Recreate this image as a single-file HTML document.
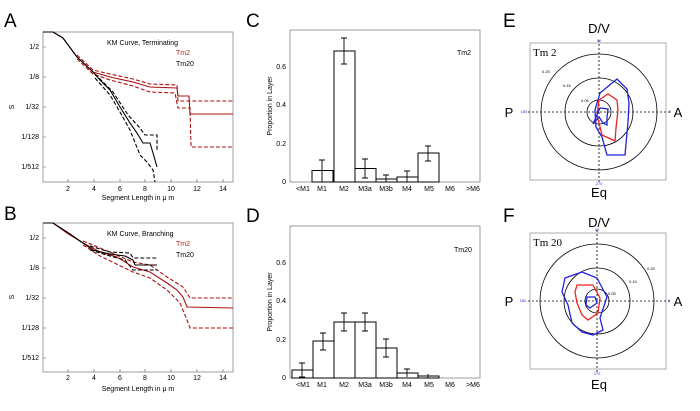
<!DOCTYPE html><html><head><style>body{margin:0;background:#fff}svg{display:block;font-family:"Liberation Sans",sans-serif}</style></head><body>
<svg width="700" height="411" viewBox="0 0 700 411" xmlns="http://www.w3.org/2000/svg">
<g font-size="7" fill="#000">
<!-- Panel A -->
<text x="4" y="27" font-size="19">A</text>
<rect x="43" y="32" width="190" height="150" fill="none" stroke="#888" stroke-width="0.8"/>
<g stroke="#555" stroke-width="0.6"><path d="M43 47h3M43 77h3M43 107h3M43 137h3M43 167h3M68 182v-3M94 182v-3M120 182v-3M145 182v-3M171 182v-3M197 182v-3M223 182v-3"/></g>
<g text-anchor="end"><text x="39" y="49">1/2</text><text x="39" y="79">1/8</text><text x="39" y="109">1/32</text><text x="39" y="139">1/128</text><text x="39" y="169">1/512</text></g>
<g text-anchor="middle"><text x="68" y="191">2</text><text x="94" y="191">4</text><text x="120" y="191">6</text><text x="145" y="191">8</text><text x="171" y="191">10</text><text x="197" y="191">12</text><text x="223" y="191">14</text>
<text x="138" y="200">Segment Length in  μ m</text></g>
<text x="12" y="109" transform="rotate(-90 12 107)" text-anchor="middle">S</text>
<text x="107" y="45">KM Curve, Terminating</text><text x="176" y="55" fill="#b22">Tm2</text><text x="176" y="66">Tm20</text>
<g fill="none" stroke-width="1.1">
<polyline stroke="#a11" points="43,32 53,32 63,38 77,57 93,72 110,77 133,82 150,87 177,88 178,96 189,96 190,114 233,114"/>
<polyline stroke="#a11" stroke-dasharray="4,2" points="77,55 93,70 110,74 133,79 150,84 177,85 178,101 233,101"/>
<polyline stroke="#a11" stroke-dasharray="4,2" points="77,59 93,74 110,80 133,86 150,92 175,93 178,108 190,108 191,147 233,147"/>
<polyline stroke="#000" points="43,32 53,32 63,38 77,57 93,72 100,80 110,90 120,107 130,123 137,133 143,143 150,143 153,153 157,167"/>
<polyline stroke="#000" stroke-dasharray="4,2" points="95,74 113,92 128,115 140,128 145,135 157,135 157,150"/>
<polyline stroke="#000" stroke-dasharray="4,2" points="95,78 110,95 120,112 130,130 140,155 147,162 153,170 155,182"/>
</g>
<!-- Panel B -->
<text x="4" y="220" font-size="19">B</text>
<rect x="43" y="223" width="190" height="149" fill="none" stroke="#888" stroke-width="0.8"/>
<g stroke="#555" stroke-width="0.6"><path d="M43 238h3M43 268h3M43 298h3M43 328h3M43 358h3M68 372v-3M94 372v-3M120 372v-3M145 372v-3M171 372v-3M197 372v-3M223 372v-3"/></g>
<g text-anchor="end"><text x="39" y="240">1/2</text><text x="39" y="270">1/8</text><text x="39" y="300">1/32</text><text x="39" y="330">1/128</text><text x="39" y="360">1/512</text></g>
<g text-anchor="middle"><text x="68" y="380">2</text><text x="94" y="380">4</text><text x="120" y="380">6</text><text x="145" y="380">8</text><text x="171" y="380">10</text><text x="197" y="380">12</text><text x="223" y="380">14</text>
<text x="138" y="391">Segment Length in  μ m</text></g>
<text x="12" y="299" transform="rotate(-90 12 297)" text-anchor="middle">S</text>
<text x="107" y="236">KM Curve, Branching</text><text x="176" y="246" fill="#b22">Tm2</text><text x="176" y="257">Tm20</text>
<g fill="none" stroke-width="1.1">
<polyline stroke="#a11" points="43,223 53,223 67,233 83,243 100,252 117,257 133,267 150,272 167,283 177,290 183,297 187,307 233,308"/>
<polyline stroke="#a11" stroke-dasharray="4,2" points="83,241 100,248 133,262 150,265 167,277 183,287 190,298 233,298"/>
<polyline stroke="#a11" stroke-dasharray="4,2" points="83,245 100,256 133,272 150,278 167,290 180,303 187,320 190,328 233,328"/>
<polyline stroke="#000" points="43,223 53,223 67,232 83,243 93,250 110,254 125,256 133,260 135,265 157,265"/>
<polyline stroke="#000" stroke-dasharray="4,2" points="90,246 110,252 130,253 133,258 157,258"/>
<polyline stroke="#000" stroke-dasharray="4,2" points="90,250 110,256 125,260 133,270 157,270"/>
</g>
<!-- Panel C -->
<text x="246" y="27" font-size="19">C</text>
<rect x="290" y="30" width="190" height="152" fill="none" stroke="#888" stroke-width="0.8"/>
<g text-anchor="end"><text x="286" y="184">0</text><text x="286" y="146">0.2</text><text x="286" y="107">0.4</text><text x="286" y="69">0.6</text></g>
<text x="272" y="106" transform="rotate(-90 272 106)" text-anchor="middle">Proportion in Layer</text>
<g text-anchor="middle"><text x="303" y="191">&lt;M1</text><text x="322" y="191">M1</text><text x="344" y="191">M2</text><text x="365" y="191">M3a</text><text x="386" y="191">M3b</text><text x="407" y="191">M4</text><text x="429" y="191">M5</text><text x="450" y="191">M6</text><text x="473" y="191">&gt;M6</text></g>
<text x="457" y="55">Tm2</text>
<g fill="#fff" stroke="#000" stroke-width="1">
<rect x="312" y="170.5" width="21" height="11.5"/><rect x="334" y="51" width="21" height="131"/><rect x="355" y="168.5" width="21" height="13.5"/><rect x="376" y="179" width="21" height="3"/><rect x="397" y="177" width="21" height="5"/><rect x="418" y="153" width="21" height="29"/>
</g>
<g stroke="#000" stroke-width="0.9">
<path d="M322 160V182M319 160h6M344 38V64M341 38h6M341 64h6M365 159V178M362 159h6M362 178h6M386 175V182M383 175h6M407 171V182M404 171h6M428 146V161M425 146h6M425 161h6"/>
</g>
<!-- Panel D -->
<text x="246" y="222" font-size="19">D</text>
<rect x="290" y="226" width="190" height="152" fill="none" stroke="#888" stroke-width="0.8"/>
<g text-anchor="end"><text x="286" y="380">0</text><text x="286" y="342">0.2</text><text x="286" y="303">0.4</text><text x="286" y="265">0.6</text></g>
<text x="272" y="302" transform="rotate(-90 272 302)" text-anchor="middle">Proportion in Layer</text>
<g text-anchor="middle"><text x="303" y="387">&lt;M1</text><text x="322" y="387">M1</text><text x="344" y="387">M2</text><text x="365" y="387">M3a</text><text x="386" y="387">M3b</text><text x="407" y="387">M4</text><text x="429" y="387">M5</text><text x="450" y="387">M6</text><text x="473" y="387">&gt;M6</text></g>
<text x="454" y="252">Tm20</text>
<g fill="#fff" stroke="#000" stroke-width="1">
<rect x="292" y="370" width="21" height="8"/><rect x="313" y="341" width="21" height="37"/><rect x="334" y="322" width="21" height="56"/><rect x="355" y="322" width="21" height="56"/><rect x="376" y="348" width="21" height="30"/><rect x="397" y="373" width="21" height="5"/><rect x="418" y="376" width="21" height="2"/>
</g>
<g stroke="#000" stroke-width="0.9">
<path d="M302 363V377M299 363h6M299 377h6M323 333V350M320 333h6M320 350h6M344 313V331M341 313h6M341 331h6M365 313V331M362 313h6M362 331h6M386 339V357M383 339h6M383 357h6M407 369V377M404 369h6M428 374V378"/>
</g>
<!-- Panel E -->
<text x="503" y="27" font-size="19">E</text>
<text x="599" y="33" font-size="13" text-anchor="middle">D/V</text>
<text x="509" y="117" font-size="13" text-anchor="middle">P</text>
<text x="678" y="117" font-size="13" text-anchor="middle">A</text>
<text x="599" y="197" font-size="13" text-anchor="middle">Eq</text>
<rect x="530" y="43" width="136" height="137" fill="none" stroke="#999" stroke-width="0.8"/>
<text x="533" y="56" font-size="11" font-family="Liberation Serif">Tm 2</text>
<g fill="none" stroke="#000" stroke-width="0.8"><circle cx="599" cy="112" r="58"/><circle cx="599" cy="112" r="34"/><circle cx="599" cy="112" r="12"/>
<path d="M528 112H670M599 40V184" stroke-dasharray="2,2"/></g>
<g font-size="4"><text x="542" y="73">0.25</text><text x="563" y="87">0.15</text><text x="581" y="102">0.05</text></g>
<g font-size="4" fill="#33c" text-anchor="middle"><text x="599" y="42">90</text><text x="524" y="113">180</text><text x="670" y="113">0</text><text x="599" y="185">270</text></g>
<g fill="none" stroke-width="1.3">
<polygon stroke="#22d" points="617,79 627,89 629,103 628,122 625,155 607,155 602,137 596,127 595,110 600,93"/>
<polygon stroke="#e22" points="608,94 617,100 618,110 616,128 615,141 602,135 599,123 597,115 599,100"/>
<polygon stroke="#22d" points="600,108 608,109 607,117 607,125 603,123 599,117 593,124"/>
</g>
<!-- Panel F -->
<text x="503" y="222" font-size="19">F</text>
<text x="599" y="227" font-size="13" text-anchor="middle">D/V</text>
<text x="509" y="306" font-size="13" text-anchor="middle">P</text>
<text x="678" y="306" font-size="13" text-anchor="middle">A</text>
<text x="599" y="389" font-size="13" text-anchor="middle">Eq</text>
<rect x="530" y="233" width="136" height="136" fill="none" stroke="#999" stroke-width="0.8"/>
<text x="533" y="246" font-size="11" font-family="Liberation Serif">Tm 20</text>
<g fill="none" stroke="#000" stroke-width="0.8"><circle cx="597" cy="301" r="57"/><circle cx="597" cy="301" r="33"/><circle cx="597" cy="301" r="12"/>
<path d="M528 301H670M597 230V373" stroke-dasharray="2,2"/></g>
<g font-size="4"><text x="647" y="270">0.25</text><text x="629" y="283">0.15</text><text x="608" y="295">0.05</text></g>
<g font-size="4" fill="#33c" text-anchor="middle"><text x="597" y="231">90</text><text x="523" y="302">180</text><text x="669" y="302">0</text><text x="597" y="375">270</text></g>
<g fill="none" stroke-width="1.3">
<polygon stroke="#22d" points="582,272 597,278 607,297 600,318 603,330 593,335 582,332 572,323 568,305 562,292 565,278"/>
<polygon stroke="#e22" points="577,285 593,285 600,298 598,313 588,320 582,315 577,303 575,292"/>
<polygon stroke="#22d" points="587,297 595,297 597,303 590,308 586,305"/>
</g>
</g>
</svg>
</body></html>
